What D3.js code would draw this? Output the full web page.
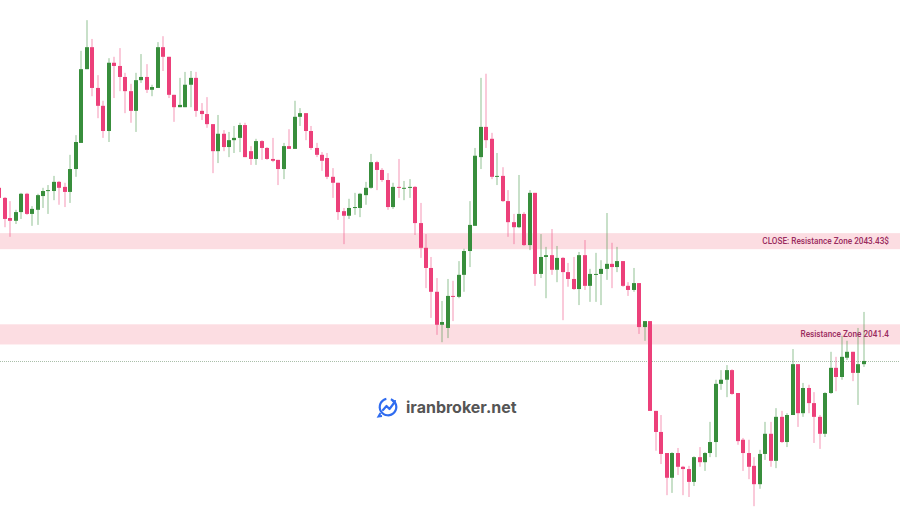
<!DOCTYPE html>
<html><head><meta charset="utf-8">
<script src="https://cdn.jsdelivr.net/npm/d3@7"></script>
<style>html,body{margin:0;padding:0;background:#fff;}svg{display:block;}</style>
</head><body>
<svg id="chart" width="900" height="520"></svg>
<script>
const openP = [2044.60,2044.38,2043.94,2043.88,2044.07,2044.47,2044.03,2044.12,2044.42,2044.53,
2044.53,2044.73,2044.62,2044.51,2045.01,2045.58,2047.19,2047.67,2046.78,2046.39,
2045.84,2047.33,2047.26,2047.02,2046.71,2046.28,2046.95,2047.02,2046.74,2046.78,
2047.67,2047.46,2046.63,2046.36,2046.36,2046.85,2047.00,2046.28,2046.21,2045.99,
2045.40,2045.78,2045.49,2045.64,2045.69,2045.97,2045.40,2045.23,2045.62,2045.47,
2045.23,2045.21,2045.01,2045.51,2045.45,2046.15,2046.23,2045.84,2045.47,2045.32,
2045.25,2044.84,2044.71,2044.09,2043.99,2044.16,2044.16,2044.44,2044.60,2045.16,
2044.99,2044.77,2044.18,2044.62,2044.58,2044.60,2044.62,2043.83,2043.29,2042.85,
2042.33,2041.61,2041.54,2042.24,2042.22,2042.70,2043.22,2043.77,2045.27,2045.93,
2045.67,2044.84,2044.86,2044.31,2043.85,2043.74,2044.03,2043.35,2044.49,2042.72,
2043.09,2043.13,2042.81,2043.07,2042.76,2042.61,2042.39,2043.13,2042.46,2042.70,
2042.72,2042.83,2042.94,2042.87,2043.00,2042.46,2042.37,2042.52,2041.56,2041.69,
2039.73,2039.27,2038.81,2038.27,2038.81,2038.51,2038.46,2038.18,2038.72,2038.61,
2038.81,2039.05,2040.32,2040.41,2040.62,2040.12,2039.10,2038.81,2038.53,2038.13,
2038.79,2039.23,2038.64,2039.60,2039.05,2039.64,2040.75,2039.68,2040.23,2039.90,
2039.60,2039.23,2040.12,2040.67,2040.47,2040.89,2041.02,2040.56,2040.75];
const highP = [2044.64,2044.40,2044.31,2044.12,2044.49,2044.49,2044.20,2044.47,2044.60,2044.66,
2044.86,2044.75,2044.71,2045.32,2045.75,2047.59,2048.26,2047.85,2047.06,2046.50,
2047.43,2047.46,2047.65,2047.11,2046.87,2047.11,2047.52,2047.30,2046.85,2047.78,
2047.91,2047.46,2046.63,2047.00,2047.13,2047.15,2047.13,2046.45,2046.58,2045.99,
2046.19,2045.86,2045.82,2045.95,2046.02,2046.02,2045.51,2045.67,2045.64,2045.49,
2045.69,2045.21,2045.58,2045.88,2046.50,2046.34,2046.23,2045.95,2045.58,2045.38,
2045.36,2045.03,2044.71,2044.16,2044.36,2044.49,2044.49,2044.73,2045.34,2045.19,
2045.03,2044.92,2044.71,2045.23,2044.75,2044.79,2044.64,2044.27,2043.59,2043.09,
2042.63,2042.13,2042.61,2042.57,2043.00,2043.27,2044.31,2045.47,2047.00,2047.09,
2045.80,2045.36,2045.05,2044.55,2044.03,2044.88,2044.07,2044.55,2044.49,2043.59,
2043.31,2043.70,2043.33,2043.09,2042.96,2043.09,2043.20,2043.46,2042.83,2043.18,
2043.02,2044.05,2043.40,2043.31,2043.00,2042.54,2042.85,2042.52,2041.69,2041.69,
2039.73,2039.64,2038.81,2038.83,2038.92,2038.53,2038.53,2038.74,2038.94,2038.83,
2039.49,2040.41,2040.62,2040.73,2040.64,2040.12,2039.14,2039.10,2038.72,2038.88,
2039.49,2039.49,2039.79,2039.73,2039.68,2041.08,2040.75,2040.34,2040.30,2040.14,
2039.64,2040.14,2041.02,2040.91,2041.37,2041.26,2041.02,2041.54,2041.89];
const lowP = [2044.33,2043.74,2043.53,2043.81,2043.92,2044.01,2043.77,2043.79,2044.16,2044.03,
2044.33,2044.23,2044.18,2044.27,2044.84,2045.58,2047.19,2046.60,2046.12,2045.69,
2045.60,2046.56,2046.71,2046.23,2046.02,2045.82,2046.89,2046.67,2046.60,2046.78,
2047.15,2046.56,2046.04,2046.36,2046.36,2046.36,2046.15,2046.08,2045.91,2044.92,
2045.14,2045.40,2045.27,2045.36,2045.38,2045.27,2045.10,2045.10,2045.21,2045.21,
2045.16,2044.66,2044.79,2045.45,2045.45,2045.95,2045.64,2045.43,2045.27,2044.97,
2044.79,2044.38,2043.90,2043.37,2043.92,2044.01,2043.96,2044.23,2044.58,2044.55,
2044.73,2044.12,2044.14,2044.38,2044.33,2044.38,2043.57,2043.07,2042.41,2041.76,
2041.39,2041.23,2041.32,2041.69,2042.19,2042.33,2042.87,2043.77,2045.01,2045.47,
2044.79,2044.66,2044.29,2043.53,2043.37,2043.72,2043.33,2043.24,2042.46,2042.63,
2042.19,2042.70,2042.54,2041.71,2042.44,2042.37,2042.04,2042.37,2042.11,2042.11,
2042.04,2042.59,2042.41,2042.76,2042.44,2042.24,2042.33,2041.41,2041.26,2039.73,
2038.86,2038.57,2037.89,2037.94,2038.33,2037.89,2037.85,2038.09,2038.51,2038.42,
2038.72,2038.72,2040.19,2040.03,2040.08,2038.99,2038.42,2038.24,2037.65,2038.03,
2038.66,2038.51,2038.48,2039.03,2038.94,2039.64,2039.38,2039.60,2039.68,2039.03,
2038.90,2039.16,2040.10,2040.16,2040.41,2040.84,2040.38,2039.86,2040.69];
const closeP = [2044.38,2043.92,2043.88,2044.07,2044.47,2044.03,2044.14,2044.44,2044.53,2044.55,
2044.73,2044.60,2044.51,2045.01,2045.60,2047.19,2047.67,2046.78,2046.39,2045.84,
2047.33,2047.26,2047.02,2046.71,2046.28,2046.95,2047.02,2046.74,2046.80,2047.67,
2047.46,2046.63,2046.36,2046.41,2046.85,2047.00,2046.28,2046.21,2045.99,2045.40,
2045.78,2045.49,2045.64,2045.69,2045.97,2045.27,2045.23,2045.62,2045.47,2045.23,
2045.19,2045.01,2045.51,2045.45,2046.15,2046.23,2045.84,2045.47,2045.32,2045.19,
2044.84,2044.71,2044.07,2043.99,2044.16,2044.18,2044.47,2044.60,2045.16,2044.99,
2044.77,2044.18,2044.62,2044.60,2044.60,2044.62,2043.83,2043.29,2042.85,2042.33,
2041.61,2041.67,2042.24,2042.22,2042.70,2043.22,2043.79,2045.30,2045.93,2045.64,
2044.84,2044.86,2044.31,2043.85,2043.74,2044.03,2043.35,2044.49,2042.72,2043.09,
2043.13,2042.81,2043.07,2042.76,2042.61,2042.39,2043.13,2042.46,2042.72,2042.72,
2042.83,2042.94,2042.87,2043.00,2042.46,2042.37,2042.52,2041.56,2041.69,2039.73,
2039.27,2038.79,2038.27,2038.81,2038.51,2038.46,2038.18,2038.72,2038.61,2038.81,
2039.05,2040.32,2040.41,2040.62,2040.10,2039.07,2038.81,2038.51,2038.13,2038.79,
2039.23,2038.64,2039.60,2039.05,2039.64,2040.75,2039.68,2040.23,2039.90,2039.60,
2039.23,2040.12,2040.67,2040.47,2040.91,2041.02,2040.56,2040.75,2040.82];

const zoneLow = [2043.26, 2041.18];
const zoneHigh = [2043.61, 2041.62];
const zoneLabels = ["CLOSE: Resistance Zone 2043.43$", "Resistance Zone 2041.4"];
const watermark = "iranbroker.net";

const W = 900, H = 520;
const svg = d3.select("#chart");
const bars = openP.map((o, i) => ({i, o, h: highP[i], l: lowP[i], c: closeP[i]}));

const x = d3.scaleBand().domain(bars.map(d => d.i)).range([-3.5, 866.4]).paddingInner(0.27).paddingOuter(0.135);
const y = d3.scaleLinear().domain([2037.348, 2048.70]).range([H, 0]);

const UP = "#388e3c", DOWN = "#ec407a";
const UPW = "rgba(56,142,60,0.55)", DOWNW = "rgba(236,64,122,0.55)";

// zones
const zones = zoneLow.map((lo, k) => ({lo, hi: zoneHigh[k], label: zoneLabels[k]}));
svg.append("g").selectAll("rect").data(zones).join("rect")
  .attr("x", 0).attr("width", W)
  .attr("y", d => y(d.hi)).attr("height", d => y(d.lo) - y(d.hi))
  .attr("fill", "rgb(252,221,226)");

// last price line
const last = closeP[closeP.length - 1];
svg.append("line").attr("x1", 0).attr("x2", W)
  .attr("y1", Math.round(y(last)) + 0.5).attr("y2", Math.round(y(last)) + 0.5)
  .attr("stroke", "#a9bfa9").attr("stroke-width", 1).attr("stroke-dasharray", "1,1");

// watermark
const wm = svg.append("g");
const ic = wm.append("g").attr("transform", "translate(388,407)");
ic.append("path").attr("d", d3.arc()({innerRadius: 7.2, outerRadius: 9.4, startAngle: 0.35, endAngle: 2*Math.PI - 0.2}))
  .attr("fill", "#2f6cf0");
ic.append("path").attr("d", "M-5,3 L-1.5,-1 L1.5,2 L6,-4").attr("fill", "none").attr("stroke", "#2f6cf0")
  .attr("stroke-width", 2.2).attr("stroke-linejoin", "round").attr("stroke-linecap", "round");
ic.append("path").attr("d", "M3,-6.5 L8,-7 L7.5,-2 Z").attr("fill", "#2f6cf0");
ic.append("path").attr("d", "M-6,9 L-9.5,9.5 L-7.5,6").attr("fill", "none").attr("stroke", "#2f6cf0").attr("stroke-width", 2);
wm.append("text").attr("x", 406).attr("y", 413).text(watermark)
  .attr("font-family", "Inter, 'Noto Sans', sans-serif").attr("font-weight", 700)
  .attr("font-size", 16).attr("fill", "#555555");

// candles
const g = svg.append("g");
const bw = x.bandwidth();
const cg = g.selectAll("g.c").data(bars).join("g").attr("class", "c");
cg.append("rect")
  .attr("x", d => Math.round(x(d.i) + bw/2 - 2) + 1.5).attr("width", 1)
  .attr("y", d => y(d.h)).attr("height", d => Math.max(1, y(d.l) - y(d.h)))
  .attr("fill", d => d.c >= d.o ? UPW : DOWNW);
cg.append("rect")
  .attr("x", d => Math.round(x(d.i) + bw/2 - 2)).attr("width", 4)
  .attr("y", d => y(Math.max(d.o, d.c)))
  .attr("height", d => Math.max(1, Math.abs(y(d.o) - y(d.c))))
  .attr("fill", d => d.c >= d.o ? UP : DOWN);

// zone labels
svg.append("g").selectAll("text").data(zones).join("text")
  .attr("x", 889).attr("y", d => y((d.lo + d.hi) / 2) + 3)
  .attr("text-anchor", "end")
  .attr("font-family", "Roboto, 'Liberation Sans', sans-serif").attr("font-weight", 500)
  .attr("font-size", 8.2).attr("fill", "#9a2b5e")
  .text(d => d.label);
</script>
</body></html>
